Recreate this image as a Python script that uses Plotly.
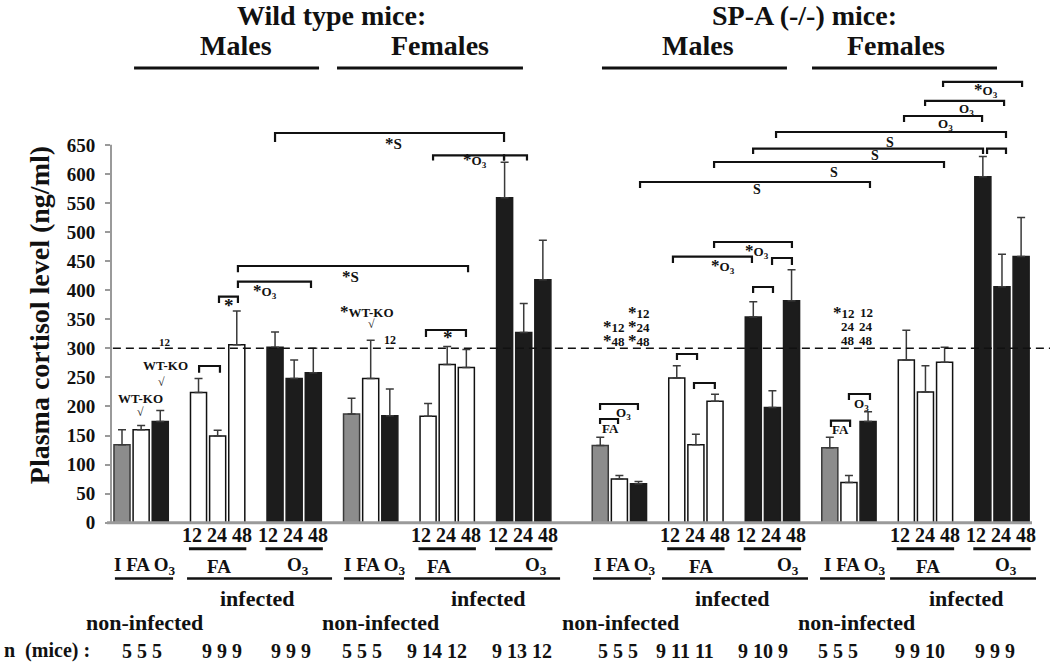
import plotly.graph_objects as go

# ---------------- data ----------------
# 12 groups x 3 bars (slots). Order per block: WT males, WT females, SP-A males, SP-A females
group_names = ["WT-M non-inf", "WT-M FA", "WT-M O3", "WT-F non-inf", "WT-F FA", "WT-F O3",
               "KO-M non-inf", "KO-M FA", "KO-M O3", "KO-F non-inf", "KO-F FA", "KO-F O3"]
bar_labels = ["I", "FA", "O3", "12", "24", "48", "12", "24", "48"]
wt_males = [134, 160, 174, 224, 149, 306, 302, 248, 258]
wt_males_err = [26, 7, 19, 24, 10, 58, 26, 32, 42]
wt_females = [187, 248, 184, 183, 272, 267, 559, 327, 418]
wt_females_err = [27, 66, 46, 22, 31, 31, 61, 50, 68]
ko_males = [133, 75, 67, 249, 134, 209, 354, 198, 382]
ko_males_err = [14, 6, 4, 21, 18, 12, 26, 29, 53]
ko_females = [129, 69, 174, 280, 225, 276, 595, 406, 458]
ko_females_err = [18, 12, 17, 51, 45, 26, 35, 56, 67]
n_mice = ["5 5 5", "9 9 9", "9 9 9", "5 5 5", "9 14 12", "9 13 12",
          "5 5 5", "9 11 11", "9 10 9", "5 5 5", "9 9 10", "9 9 9"]
y_ticks = list(range(0, 651, 50))

# ---------------- layout geometry ----------------
group_start = [0, 4, 8, 12, 16, 20, 25, 29, 33, 37, 41, 45]
bar_kind = ["gray", "white", "black", "white", "white", "white", "black", "black", "black"]
SLOT_PX, X0_PX = 19.13, 122.0
UNIT_PX, Y0_PX = 0.5813, 522.7
W, H, LEFT = 1050, 666, 111
x_range = [(LEFT - X0_PX) / SLOT_PX, (W - X0_PX) / SLOT_PX]
y_range = [(Y0_PX - H) / UNIT_PX, Y0_PX / UNIT_PX]
plot_w = W - LEFT

def px2paper(px):
    return (px - LEFT) / plot_w

blocks = [(wt_males, wt_males_err), (wt_females, wt_females_err),
          (ko_males, ko_males_err), (ko_females, ko_females_err)]
series = {"gray": ([], [], []), "white": ([], [], []), "black": ([], [], [])}
for b, (vals, errs) in enumerate(blocks):
    for i, (v, e) in enumerate(zip(vals, errs)):
        g = b * 3 + i // 3
        x = group_start[g] + i % 3
        k = bar_kind[i]
        series[k][0].append(x)
        series[k][1].append(v)
        series[k][2].append(e)

style = {"gray": ("#8c8c8c", "#3a3a3a"), "white": ("#ffffff", "#111111"), "black": ("#1c1c1c", "#1c1c1c")}
fig = go.Figure()
for k, (xs, ys, es) in series.items():
    fill, line = style[k]
    fig.add_trace(go.Bar(
        x=xs, y=ys, width=0.84, showlegend=False,
        marker=dict(color=fill, line=dict(color=line, width=1.5)),
        error_y=dict(type="data", symmetric=False, array=es, arrayminus=[0] * len(es),
                     color="#3a3a3a", thickness=1.5, width=4),
    ))

FONT = "Liberation Serif"
shapes = []
annots = []

def ann(x, y, text, size, xref="x", xanchor="center", angle=0):
    annots.append(dict(x=x, y=y, xref=xref, yref="y", text=text, showarrow=False,
                       xanchor=xanchor, yanchor="middle", textangle=angle,
                       font=dict(family=FONT, size=size, color="#111", weight="bold")))

def hline(x0, x1, y, width=3):
    shapes.append(dict(type="line", xref="x", yref="y", x0=x0, x1=x1, y0=y, y1=y,
                       line=dict(color="#111", width=width)))

def bracket(x0, x1, y, yb, width=2.2):
    shapes.append(dict(type="path", xref="x", yref="y",
                       path=f"M {x0},{yb} L {x0},{y} L {x1},{y} L {x1},{yb}",
                       line=dict(color="#111", width=width)))

# axes drawn as shapes
shapes.append(dict(type="line", xref="paper", yref="y", x0=px2paper(107), x1=px2paper(1032), y0=0, y1=0,
                   line=dict(color="#9a9a9a", width=3), layer="above"))
shapes.append(dict(type="line", xref="paper", yref="y", x0=0, x1=0, y0=0, y1=650,
                   line=dict(color="#9a9a9a", width=2), layer="above"))
# reference line at 300
shapes.append(dict(type="line", xref="paper", yref="y", x0=0.002, x1=1, y0=300, y1=300,
                   line=dict(color="#111", width=1.5, dash="8px,5px"), layer="above"))

# headers
ann(10.93, 873, "Wild type mice:", 28)
ann(35.7, 873, "SP-A (-/-) mice:", 28)
for x, t in [(5.96, "Males"), (16.62, "Females"), (30.11, "Males"), (40.46, "Females")]:
    ann(x, 821, t, 28)
for x0, x1 in [(0.63, 10.3), (11.24, 20.96), (25.09, 34.76), (36.07, 45.74)]:
    hline(x0, x1, 782, 3)

# brackets
for b in [(8.00, 19.97, 670.4, 655), (16.26, 19.97, 632, 623), (19.97, 21.17, 632, 623),
          (6.06, 18.09, 441.6, 431), (6.06, 9.88, 414.6, 403.6), (5.07, 6.06, 388.8, 377.9),
          (4.03, 5.12, 269.6, 258), (15.89, 17.98, 331.5, 319.5),
          (27.08, 39.1, 586.1, 575.8), (30.95, 42.97, 620.5, 610.2), (32.99, 45.01, 643.4, 634.2),
          (45.22, 46.21, 643.4, 634.2), (34.19, 46.21, 672.1, 661.8), (40.88, 44.96, 699.6, 689.3),
          (41.98, 46.11, 725.5, 716.9), (42.92, 47.05, 758.2, 749.6),
          (28.8, 32.93, 457.6, 446.7), (30.95, 35.02, 482.9, 472.6), (33.98, 35.02, 455.4, 443.3),
          (32.99, 34.03, 405.5, 395.2), (29.01, 30.06, 290.2, 279.9), (29.9, 30.99, 240.3, 230),
          (24.99, 26.97, 204.2, 193.9), (24.99, 25.93, 178.4, 169.8),
          (37.06, 38.06, 175.5, 164.6), (38.0, 39.1, 221.4, 211.1)]:
    bracket(*b)

AST = "<span style='font-size:17px'>*</span>"
O3 = "O<sub>3</sub>"
for x, y in [(14.17, 652), (11.92, 424)]:
    ann(x, y, AST + "S", 15)
for x, y in [(18.45, 624), (7.48, 398.8), (31.42, 440.9), (33.19, 467.4), (45.17, 744.4)]:
    ann(x, y, AST + O3, 13)
for x, y in [(5.59, 374.5), (17.04, 318)]:
    ann(x, y, "*", 19)
for x, y in [(33.19, 572.4), (37.22, 603.3), (39.36, 632.5), (40.15, 653.2)]:
    ann(x, y, "S", 14)
for x, y in [(43.07, 684.2), (44.17, 710.6), (26.19, 188.7), (38.68, 204.2)]:
    ann(x, y, O3, 13)
for x, y in [(25.56, 161.2), (37.58, 159.5)]:
    ann(x, y, "FA", 13)

# WT-KO marks
ann(0.99, 214.5, "WT-KO", 13)
ann(0.99, 190, "√", 12)
ann(2.25, 269.6, "WT-KO", 13)
ann(2.09, 242, "√", 12)
ann(2.25, 311, "12", 11)
ann(12.81, 364, AST + "WT-KO", 13)
ann(13.02, 341, "√", 12)
ann(14.01, 314.3, "12", 12)

# time-point significance clusters
for x, y, t in [(26.4, 336.7, AST + "12"), (26.4, 312.6, AST + "48"),
                (27.71, 360.8, AST + "12"), (27.71, 336.7, AST + "24"), (27.71, 312.6, AST + "48"),
                (38.42, 360.8, AST + "12"), (38.42, 336.7, "24"), (38.42, 314.3, "48"),
                (39.36, 360.8, "12"), (39.36, 336.7, "24"), (39.36, 314.3, "48")]:
    ann(x, y, t, 13, xanchor="right")

# bottom category labels
for g in [1, 2, 4, 5, 7, 8, 10, 11]:
    c = group_start[g] + 1
    ann(c - 0.05, -22, "12 24 48", 20)
    hline(c - 1.5, c + 1.5, -45, 3)
for x in [1.2, 13.23, 26.29, 38.32]:
    ann(x, -75.3, "I FA " + O3, 19)
for x in [5.07, 16.57, 30.27, 42.13]:
    ann(x, -75.3, "FA", 19)
for x in [9.2, 21.64, 34.81, 46.21]:
    ann(x, -75.3, O3, 19)
for x0, x1 in [(-0.37, 2.67), (11.6, 14.74), (24.62, 27.65), (36.49, 39.88),
               (3.4, 10.98), (15.32, 22.9), (28.23, 35.86), (40.15, 47.78)]:
    hline(x0, x1, -96, 2.5)
for x in [7.06, 19.18, 31.91, 44.17]:
    ann(x, -130.4, "infected", 22)
for x in [1.2, 13.49, 26.08, 38.42]:
    ann(x, -171.9, "non-infected", 22)
ann(px2paper(2), -220.7, "n  (mice) :", 20, xref="paper", xanchor="left")
n_x = [1.05, 5.23, 8.83, 12.55, 16.47, 20.91, 25.93, 29.43, 33.51, 37.43, 41.71, 45.64]
for x, t in zip(n_x, n_mice):
    ann(x, -220.7, t, 20)

# y-axis title
ann(px2paper(39), 357, "Plasma cortisol level (ng/ml)", 28, xref="paper", angle=-90)

fig.update_layout(
    width=W, height=H, margin=dict(l=LEFT, r=0, t=0, b=0, pad=0),
    paper_bgcolor="white", plot_bgcolor="white", barmode="overlay",
    xaxis=dict(range=x_range, visible=False, fixedrange=True),
    yaxis=dict(range=y_range, tickvals=y_ticks, showgrid=False, zeroline=False, showline=False,
               ticks="outside", ticklen=5, tickcolor="#9a9a9a", tickwidth=1.5, ticklabelstandoff=6,
               tickfont=dict(family=FONT, size=19, color="#111", weight="bold"), fixedrange=True),
    shapes=shapes, annotations=annots,
)
fig.write_html("out.html", config={"displayModeBar": False},
               post_script="document.body.style.margin='0px';document.body.style.overflow='hidden';")
